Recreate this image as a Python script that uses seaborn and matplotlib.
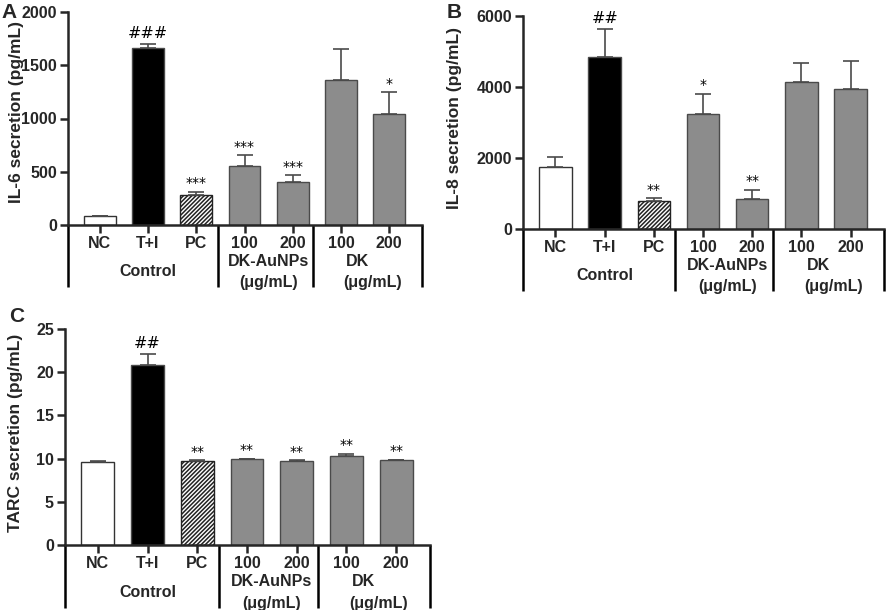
import numpy as np
import pandas as pd
import matplotlib.pyplot as plt
import seaborn as sns

# categories and labels
groups = ["NC", "T+I", "PC", "AuNP100", "AuNP200", "DK100", "DK200"]
tick_labels = ["NC", "T+I", "PC", "100", "200", "100", "200"]
bar_colors = ["white", "black", "white", "#8c8c8c", "#8c8c8c", "#8c8c8c", "#8c8c8c"]

# IL-6 (A)
il6_mean = [84, 1666, 285, 550, 400, 1366, 1044]
il6_sd = [5, 37, 27, 106, 65, 284, 203]
il6_sig = ["", "###", "***", "***", "***", "", "*"]

# IL-8 (B)
il8_mean = [1759, 4853, 780, 3245, 846, 4138, 3950]
il8_sd = [282, 780, 95, 564, 264, 536, 771]
il8_sig = ["", "##", "**", "*", "**", "", ""]

# TARC (C)
tarc_mean = [9.66, 20.85, 9.78, 9.93, 9.78, 10.30, 9.81]
tarc_sd = [0.02, 1.27, 0.07, 0.07, 0.03, 0.27, 0.08]
tarc_sig = ["", "##", "**", "**", "**", "**", "**"]

sns.set_style("ticks")
plt.rcParams["font.family"] = ["Liberation Sans", "DejaVu Sans"]
plt.rcParams["hatch.linewidth"] = 1.1

W, H = 886, 610
fig = plt.figure(figsize=(W / 100, H / 100), dpi=100)


def px_axes(left, top, right, bottom):
    return fig.add_axes([left / W, 1 - bottom / H, (right - left) / W, (bottom - top) / H])


def panel(ax, mean, sd, sig, ymax, ystep, ylabel, lab_xy, letter, letter_xy):
    df = pd.DataFrame({"group": groups, "value": mean})
    sns.barplot(data=df, x="group", y="value", hue="group", palette=bar_colors,
                legend=False, ax=ax, width=0.66, edgecolor="#4a4a4a",
                linewidth=1.0, errorbar=None, saturation=1)
    for i, p in enumerate(ax.patches):
        if i == 0:
            p.set_edgecolor("#333333")
        if i == 2:
            p.set_hatch("////////")
            p.set_edgecolor("#222222")
    x = np.arange(len(groups))
    ax.errorbar(x, mean, yerr=[np.zeros(len(sd)), sd], fmt="none", ecolor="#4a4a4a",
                elinewidth=1.2, capsize=6, capthick=1.2, zorder=1)
    for i, s in enumerate(sig):
        if s:
            fs = 11.5 if "#" in s else 10
            ax.annotate(s, (i, mean[i] + sd[i]), xytext=(0, 2 if "#" in s else 1),
                        textcoords="offset points", ha="center", va="bottom",
                        fontsize=fs, family="DejaVu Sans", color="black")

    ax.set_xlim(-0.66, 6.68)
    ax.set_ylim(0, ymax)
    ax.set_yticks(np.arange(0, ymax + ystep / 2, ystep))
    ax.set_xticks(x)
    ax.set_xticklabels(tick_labels)
    ax.set_xlabel("")
    ax.set_ylabel("")
    for sp in ["top", "right"]:
        ax.spines[sp].set_visible(False)
    for sp in ["left", "bottom"]:
        ax.spines[sp].set_linewidth(1.8)
    ax.tick_params(axis="both", direction="out", length=6, width=1.8,
                   labelsize=11.5, pad=2)
    for t in ax.get_xticklabels() + ax.get_yticklabels():
        t.set_fontweight("bold")

    trans = ax.get_xaxis_transform()
    for xv in [-0.66, 2.44, 4.42, 6.68]:
        ax.plot([xv, xv], [0, -0.29], transform=trans, clip_on=False,
                color="black", lw=1.8, solid_capstyle="butt")
    kw = dict(transform=trans, ha="center", va="center", fontsize=11.5, fontweight="bold")
    ax.text(1.0, -0.22, "Control", **kw)
    ax.text(3.5, -0.17, "DK-AuNPs", **kw)
    ax.text(3.5, -0.27, "(μg/mL)", **kw)
    ax.text(5.35, -0.17, "DK", **kw)
    ax.text(5.65, -0.27, "(μg/mL)", **kw)

    fig.text(lab_xy[0] / W, 1 - lab_xy[1] / H, ylabel, rotation=90, ha="center",
             va="center", fontsize=12.5, fontweight="bold")
    fig.text(letter_xy[0] / W, 1 - letter_xy[1] / H, letter, ha="center", va="center",
             fontsize=15, fontweight="bold")


axA = px_axes(68, 12, 422, 225)
panel(axA, il6_mean, il6_sd, il6_sig, 2000, 500, "IL-6 secretion (pg/mL)",
      (17, 112), "A", (9, 12))

axB = px_axes(523, 16, 884, 229)
panel(axB, il8_mean, il8_sd, il8_sig, 6000, 2000, "IL-8 secretion (pg/mL)",
      (455, 118), "B", (454, 13))

axC = px_axes(65, 329, 430, 545)
panel(axC, tarc_mean, tarc_sd, tarc_sig, 25, 5, "TARC secretion (pg/mL)",
      (16, 433), "C", (17, 317))

fig.savefig("out.png", dpi=100)
